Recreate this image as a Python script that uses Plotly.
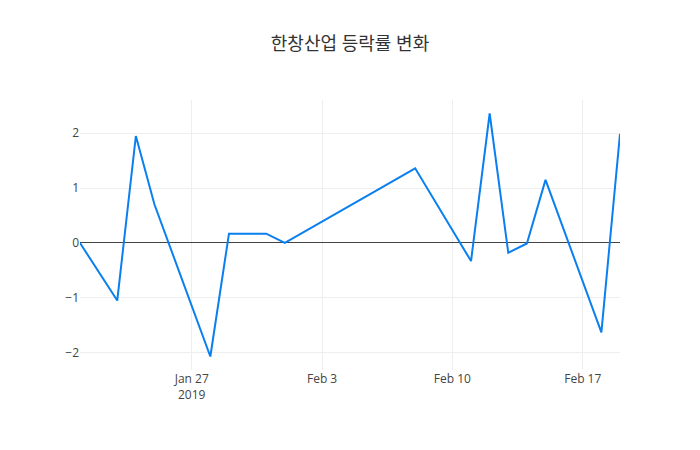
import plotly.graph_objects as go

dates = ["2019-01-21", "2019-01-23", "2019-01-24", "2019-01-25", "2019-01-28",
         "2019-01-29", "2019-01-31", "2019-02-01", "2019-02-08", "2019-02-11",
         "2019-02-12", "2019-02-13", "2019-02-14", "2019-02-15", "2019-02-18",
         "2019-02-19"]
change_pct = [0.0, -1.05, 1.95, 0.70, -2.07,
              0.17, 0.17, 0.0, 1.36, -0.33,
              2.36, -0.18, -0.01, 1.15, -1.63,
              1.99]

title_text = "한창산업 등락률 변화"

fig = go.Figure()
fig.add_trace(go.Scatter(x=dates, y=change_pct, mode="lines",
                         line=dict(color="#0a7ff0", width=2)))

fig.update_layout(
    template="none",
    width=700, height=450,
    title=dict(text=title_text, x=0.5, xanchor="center",
               font=dict(family="Open Sans, Noto Sans CJK KR", size=18, color="#333")),
    font=dict(family="Open Sans, Noto Sans CJK KR", color="#444"),
    margin=dict(l=80, r=80, t=100, b=80),
    paper_bgcolor="white", plot_bgcolor="white",
    xaxis=dict(showgrid=True, gridcolor="#eee", zeroline=False),
    yaxis=dict(showgrid=True, gridcolor="#eee", zeroline=True, zerolinecolor="#444",
               zerolinewidth=1),
    showlegend=False,
)

fig.write_html("out.html")
